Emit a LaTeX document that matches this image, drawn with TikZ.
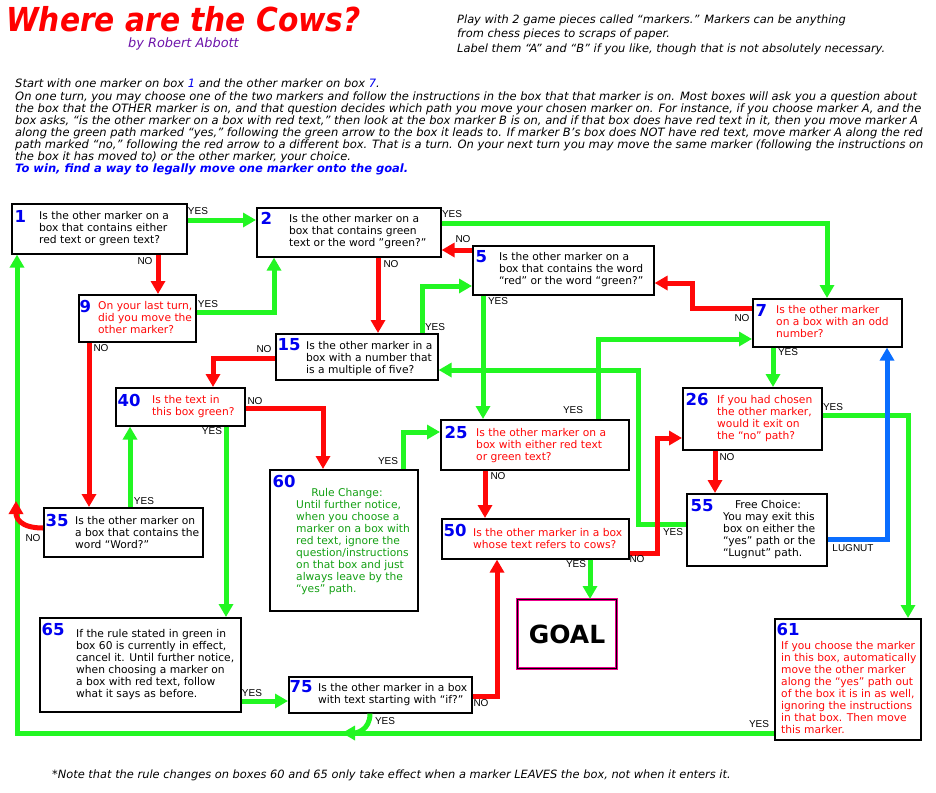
\documentclass[tikz,border=0pt]{standalone}
\usepackage{fontspec}
\setmainfont{DejaVu Sans}
\newfontfamily\arialfont{Liberation Sans}
\usetikzlibrary{arrows.meta}

\begin{document}
\begin{tikzpicture}[x=1pt,y=-1pt]
\definecolor{yesg}{RGB}{34,246,34}
\definecolor{nored}{RGB}{255,8,8}
\definecolor{lugblue}{RGB}{10,110,255}
\definecolor{numblue}{RGB}{0,0,240}
\definecolor{rulegreen}{RGB}{20,160,20}
\definecolor{byline}{RGB}{110,20,170}
\tikzset{
  box/.style={draw,line width=1.6pt,fill=white,inner sep=0pt,anchor=north west},
  num/.style={font=\bfseries\fontsize{16.5}{16.5}\selectfont,text=numblue,anchor=west,inner sep=0pt},
  txt/.style={font=\fontsize{10.7}{12}\selectfont,align=left,anchor=north west,inner sep=0pt},
  redtxt/.style={txt,text=nored},
  lbl/.style={font=\arialfont\fontsize{10}{10}\selectfont,inner sep=0pt},
  yes/.style={draw=yesg,line width=5pt,-{Triangle[width=14pt,length=13pt]}},
  no/.style={yes,draw=nored},
  lug/.style={yes,draw=lugblue}
}
\useasboundingbox[fill=white] (0,0) rectangle (936,792);

% heading and rules
\node[anchor=base west,inner sep=0pt,text=red] (title) at (6,32)
  {\scalebox{0.9}[1]{\bfseries\itshape\fontsize{33}{33}\selectfont Where are the Cows?}};
\node[anchor=west,inner sep=0pt,text=byline,font=\itshape\fontsize{12.9}{13}\selectfont] (by) at (128,43.5) {by Robert Abbott};
\node[anchor=north west,inner sep=0pt,align=left,font=\itshape\fontsize{11.4}{14.5}\selectfont] (play) at (457,14.5)
  {Play with 2 game pieces called “markers.” Markers can be anything\\
   from chess pieces to scraps of paper.\\
   Label them “A” and “B” if you like, though that is not absolutely necessary.};
\node[anchor=north west,inner sep=0pt,align=left,font=\itshape\fontsize{11.5}{12.1}\selectfont] (rules) at (15,79)
  {Start with one marker on box {\color{numblue}1} and the other marker on box {\color{numblue}7}.\\
   On one turn, you may choose one of the two markers and follow the instructions in the box that that marker is on. Most boxes will ask you a question about\\
   the box that the OTHER marker is on, and that question decides which path you move your chosen marker on. For instance, if you choose marker A, and the\\
   box asks, “is the other marker on a box with red text,” then look at the box marker B is on, and if that box does have red text in it, then you move marker A\\
   along the green path marked “yes,” following the green arrow to the box it leads to. If marker B’s box does NOT have red text, move marker A along the red\\
   path marked “no,” following the red arrow to a different box. That is a turn. On your next turn you may move the same marker (following the instructions on\\
   the box it has moved to) or the other marker, your choice.\\
   {\bfseries\color{blue}To win, find a way to legally move one marker onto the goal.}};
\node[anchor=west,inner sep=0pt,font=\itshape\fontsize{11.4}{12}\selectfont] (note) at (52,775)
  {*Note that the rule changes on boxes 60 and 65 only take effect when a marker LEAVES the box, not when it enters it.};

% the boxes
\node[box,minimum width=175pt,minimum height=50pt] (b1) at (11,203) {};
\node[box,minimum width=184pt,minimum height=49pt] (b2) at (256,207) {};
\node[box,minimum width=117pt,minimum height=47pt] (b9) at (78,294) {};
\node[box,minimum width=162pt,minimum height=46pt] (b15) at (275,333) {};
\node[box,minimum width=181pt,minimum height=49pt] (b5) at (472,245) {};
\node[box,minimum width=149pt,minimum height=48pt] (b7) at (752,298) {};
\node[box,minimum width=129pt,minimum height=38pt] (b40) at (115,387) {};
\node[box,minimum width=159pt,minimum height=49pt] (b35) at (43,507) {};
\node[box,minimum width=148pt,minimum height=141pt] (b60) at (269,469) {};
\node[box,minimum width=188pt,minimum height=50pt] (b25) at (440,419) {};
\node[box,minimum width=187pt,minimum height=40pt] (b50) at (441,518) {};
\node[box,minimum width=139pt,minimum height=62pt] (b26) at (682,387) {};
\node[box,minimum width=140pt,minimum height=72pt] (b55) at (686,493) {};
\node[box,draw=magenta,double=black,double distance=1.2pt,line width=1pt,minimum width=99pt,minimum height=69pt] (goal) at (517,599) {};
\node[box,minimum width=146pt,minimum height=121pt] (b61) at (774,618) {};
\node[box,minimum width=201pt,minimum height=94pt] (b65) at (39,617) {};
\node[box,minimum width=183pt,minimum height=36pt] (b75) at (288,676) {};

% box numbers
\foreach \n/\x/\y in {1/14.5/216, 2/260.5/218, 9/79.5/306, 15/277.5/345, 5/475.5/257, 7/755.5/310,
  40/117.5/400, 35/45.5/520, 60/272.5/481, 25/444.5/432, 50/443.5/530, 26/685.5/399,
  55/690.5/506, 65/41.5/629, 75/289.5/687, 61/776.5/629}
  \node[num] (n\n) at (\x,\y) {\n};

% box texts
\node[txt] (t1) at (39,211) {Is the other marker on a\\box that contains either\\red text or green text?};
\node[txt] (t2) at (289,214) {Is the other marker on a\\box that contains green\\text or the word "green?"};
\node[redtxt] (t9) at (98,301) {On your last turn,\\did you move the\\other marker?};
\node[txt] (t15) at (306,341) {Is the other marker in a\\box with a number that\\is a multiple of five?};
\node[txt] (t5) at (499,252) {Is the other marker on a\\box that contains the word\\“red” or the word “green?”};
\node[redtxt] (t7) at (776,305) {Is the other marker\\on a box with an odd\\number?};
\node[redtxt] (t40) at (152,395) {Is the text in\\this box green?};
\node[txt] (t35) at (75,516) {Is the other marker on\\a box that contains the\\word “Word?”};
\node[txt,anchor=north,text=rulegreen] (t60a) at (347,488) {Rule Change:};
\node[txt,text=rulegreen] (t60b) at (296,500) {Until further notice,\\when you choose a\\marker on a box with\\red text, ignore the\\question/instructions\\on that box and just\\always leave by the\\“yes” path.};
\node[redtxt] (t25) at (476,428) {Is the other marker on a\\box with either red text\\or green text?};
\node[redtxt] (t50) at (473,528) {Is the other marker in a box\\whose text refers to cows?};
\node[redtxt] (t26) at (717,395) {If you had chosen\\the other marker,\\would it exit on\\the “no” path?};
\node[txt,anchor=north] (t55a) at (768,500) {Free Choice:};
\node[txt] (t55b) at (723,512) {You may exit this\\box on either the\\“yes” path or the\\“Lugnut” path.};
\node[txt] (t65) at (76,629) {If the rule stated in green in\\box 60 is currently in effect,\\cancel it. Until further notice,\\when choosing a marker on\\a box with red text, follow\\what it says as before.};
\node[txt] (t75) at (318,683) {Is the other marker in a box\\with text starting with “if?”};
\node[redtxt] (t61) at (781,641) {If you choose the marker\\in this box, automatically\\move the other marker\\along the “yes” path out\\of the box it is in as well,\\ignoring the instructions\\in that box. Then move\\this marker.};
\node[font=\bfseries\fontsize{25}{25}\selectfont,inner sep=0pt] (goaltxt) at (goal.center) {GOAL};

% free ends of the curved arrows
\coordinate (c35) at (16,501);
\coordinate (c75) at (342,733);

% yes paths
\draw[yes] (b1.east |- 0,220) -- (b2.west |- 0,220);
\draw[yes] (b9.east |- 0,312) -| (b2.south -| 274,0);
\draw[yes] (b2.east |- 0,223) -| (b7.north -| 827,0);
\draw[yes] (b15.north -| 422,0) |- (b5.west |- 0,286);
\draw[yes] (b5.south -| 483,0) -- (b25.north -| 483,0);
\draw[yes] (b7.south -| 773,0) -- (b26.north -| 773,0);
\draw[yes] (b25.north -| 598,0) |- (b7.west |- 0,339);
\draw[yes] (b55.west |- 0,524) -- ++(-48,0) |- (b15.east |- 0,370);
\draw[yes] (b40.south -| 226,0) -- (b65.north -| 226,0);
\draw[yes] (b35.north -| 130,0) -- (b40.south -| 130,0);
\draw[yes] (b61.west |- 0,733) -| (b1.south -| 17,0);
\draw[yes] (b75.south -| 370,0) .. controls ++(0,17) and ++(14,0) .. (c75);
\draw[yes] (b65.east |- 0,701) -- (b75.west |- 0,701);
\draw[yes] (b60.north -| 403,0) |- (b25.west |- 0,432);
\draw[yes] (b50.south -| 590,0) -- (goal.north -| 590,0);
\draw[yes] (b26.east |- 0,415) -| (b61.north -| 908,0);
% no paths
\draw[no] (b1.south -| 158,0) -- (b9.north -| 158,0);
\draw[no] (b9.south -| 89,0) -- (b35.north -| 89,0);
\draw[no] (b2.south -| 378,0) -- (b15.north -| 378,0);
\draw[no] (b5.west |- 0,250) -- (b2.east |- 0,250);
\draw[no] (b7.west |- 0,308) -- ++(-60,0) |- (b5.east |- 0,283);
\draw[no] (b15.west |- 0,358) -| (b40.north -| 213,0);
\draw[no] (b40.east |- 0,408) -| (b60.north -| 323,0);
\draw[no] (b35.west |- 0,528) .. controls ++(-24,0) and ++(0,16) .. (c35);
\draw[no] (b75.east |- 0,696) -| (b50.south -| 497,0);
\draw[no] (b25.south -| 485,0) -- (b50.north -| 485,0);
\draw[no] (b50.east |- 0,553) -- ++(28,0) |- (b26.west |- 0,438);
\draw[no] (b26.south -| 715,0) -- (b55.north -| 715,0);
% the lugnut path
\draw[lug] (b55.east |- 0,539) -| (b7.south -| 887,0);

% path labels
\foreach \word/\x/\y [count=\i] in {YES/198/211, NO/145/261, YES/208/304, NO/101/348, NO/391/264,
  YES/452/214, NO/463/239, NO/742/318, YES/435/327, NO/264/349, YES/788/352, YES/573/410,
  YES/673/532, NO/255/401, YES/212/431, YES/144/501, NO/33/538, YES/388/461, YES/252/693,
  YES/385/721, NO/481/703, YES/759/724, NO/637/559, YES/576/564, NO/498/476, NO/727/457,
  YES/833/407, LUGNUT/853/548, YES/498/301}
  \node[lbl] (lbl\i) at (\x,\y) {\word};
\end{tikzpicture}
\end{document}
